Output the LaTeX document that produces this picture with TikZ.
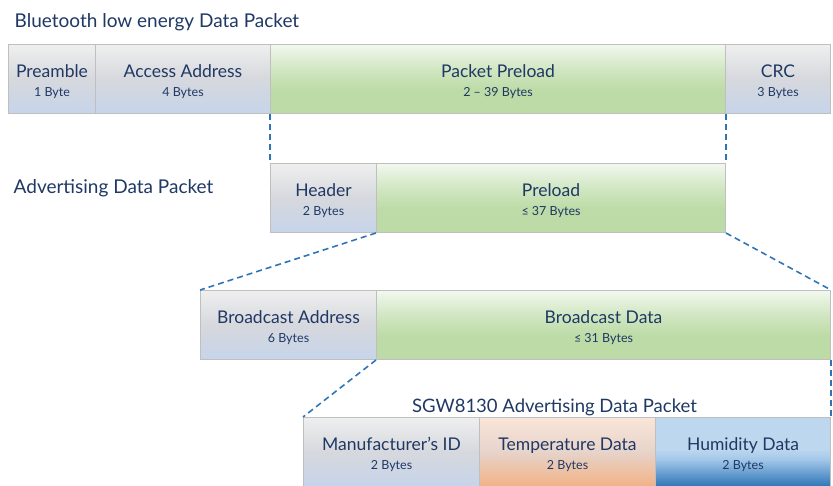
\documentclass[tikz,border=0pt]{standalone}
\usepackage{fontspec}
\setmainfont{Lato}
\definecolor{txt}{HTML}{1F3864}
\definecolor{edge}{HTML}{BFBFBF}
\definecolor{dashc}{HTML}{2E75B6}
\definecolor{gbA}{HTML}{C6D4EA}
\definecolor{gbB}{HTML}{D6D8DD}
\definecolor{gbC}{HTML}{EFEFEF}
\definecolor{grA}{HTML}{BCDBA6}
\definecolor{grB}{HTML}{D2E7C4}
\definecolor{grC}{HTML}{F2F8EE}
\definecolor{orA}{HTML}{F2B285}
\definecolor{orB}{HTML}{E6D3CA}
\definecolor{orC}{HTML}{FAE5D8}
\definecolor{blA}{HTML}{2E75B6}
\definecolor{blB}{HTML}{A4C8EA}
\definecolor{blC}{HTML}{BDD7EE}
\pgfdeclareverticalshading{grayblue}{100bp}{color(0bp)=(gbA); color(25bp)=(gbA); color(50bp)=(gbB); color(75bp)=(gbC); color(100bp)=(gbC)}
\pgfdeclareverticalshading{greenish}{100bp}{color(0bp)=(grA); color(25bp)=(grA); color(42bp)=(grA); color(58bp)=(grB); color(75bp)=(grC); color(100bp)=(grC)}
\pgfdeclareverticalshading{orangish}{100bp}{color(0bp)=(orA); color(25bp)=(orA); color(50bp)=(orB); color(75bp)=(orC); color(100bp)=(orC)}
\pgfdeclareverticalshading{bluish}{100bp}{color(0bp)=(blA); color(25bp)=(blA); color(45bp)=(blB); color(52bp)=(blC); color(75bp)=(blC); color(100bp)=(blC)}
\tikzset{
  seg/.style={rectangle, draw=edge, line width=1pt, minimum height=69pt, inner sep=0pt, anchor=center},
  gb/.style={seg, shading=grayblue},
  gr/.style={seg, shading=greenish},
  og/.style={seg, shading=orangish},
  bl/.style={seg, shading=bluish},
  mainlbl/.style={inner sep=0pt, anchor=base, text=txt, font=\fontsize{17.5}{20}\selectfont},
  sublbl/.style={inner sep=0pt, anchor=base, text=txt, font=\fontsize{12.5}{15}\selectfont},
  ttl/.style={inner sep=0pt, text=txt, font=\fontsize{19}{22}\selectfont},
  link/.style={draw=dashc, line width=1.6pt, dash pattern=on 6pt off 4pt}
}
% \segment{name}{style}{cx}{cy}{width}{main}{sub}
\newcommand{\segment}[7]{%
  \node[#2, minimum width=#5pt] (#1) at (#3,#4) {};
  \node[mainlbl] (#1-m) at ([yshift=-33pt]#1.north) {#6};
  \node[sublbl] (#1-s) at ([yshift=-52pt]#1.north) {#7};
}
\begin{document}
\begin{tikzpicture}[x=1pt,y=-1pt]
\useasboundingbox (0,0) rectangle (833,485);
\begin{scope}[shift={(0.5,0.5)}]
% titles
\node[ttl, anchor=base west] (t1) at (14,27) {Bluetooth low energy Data Packet};
\node[ttl, anchor=base west] (t2) at (13,193) {Advertising Data Packet};
\node[ttl, anchor=base, font=\fontsize{18.5}{22}\selectfont] (t3) at (554,412) {SGW8130 Advertising Data Packet};
% row 1
\segment{pre}{gb}{51.5}{78.5}{87}{Preamble}{1 Byte}
\segment{acc}{gb}{182.5}{78.5}{175}{Access Address}{4 Bytes}
\segment{pay}{gr}{497.5}{78.5}{455}{Packet Preload}{2 – 39 Bytes}
\segment{crc}{gb}{777.5}{78.5}{105}{CRC}{3 Bytes}
% row 2
\segment{hdr}{gb}{323}{197.5}{106}{Header}{2 Bytes}
\segment{pl2}{gr}{550.5}{197.5}{349}{Preload}{≤ 37 Bytes}
% row 3
\segment{badr}{gb}{288}{324.5}{176}{Broadcast Address}{6 Bytes}
\segment{bdat}{gr}{603}{324.5}{454}{Broadcast Data}{≤ 31 Bytes}
% row 4
\segment{man}{gb}{391}{451.5}{176}{Manufacturer’s ID}{2 Bytes}
\segment{tmp}{og}{567}{451.5}{176}{Temperature Data}{2 Bytes}
\segment{hum}{bl}{742.5}{451.5}{175}{Humidity Data}{2 Bytes}
% dashed connectors
\draw[link] (pay.south west) -- (hdr.north west);
\draw[link] (pay.south east) -- (pl2.north east);
\draw[link] (pl2.south west) -- (badr.north west);
\draw[link] (pl2.south east) -- (bdat.north east);
\draw[link] (bdat.south west) -- (man.north west);
\draw[link] (bdat.south east) -- (hum.north east);
\end{scope}
\end{tikzpicture}
\end{document}
